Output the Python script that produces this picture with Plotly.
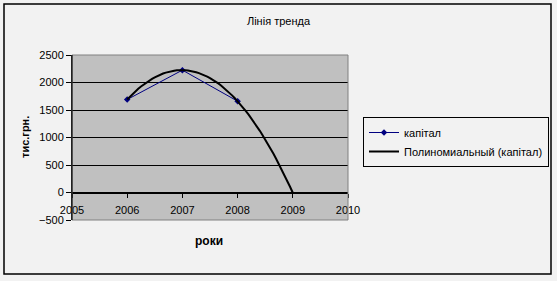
import numpy as np
import plotly.graph_objects as go

years = [2006, 2007, 2008]
capital = [1690, 2225, 1660]
x_ticks = [2005, 2006, 2007, 2008, 2009, 2010]
y_ticks = [-500, 0, 500, 1000, 1500, 2000, 2500]

# polynomial (2nd order) trend, forecast forward 1 period as in the original
coef = np.polyfit(np.array(years) - years[0], capital, 2)
tx = np.linspace(years[0], years[-1] + 1, 61)
ty = np.polyval(coef, tx - years[0])

W, H = 557, 281
L, R, T, B = 72, 209, 55, 61
pw, ph = W - L - R, H - T - B

def px(x):
    return (x - L) / pw

def py(y):
    return (H - B - y) / ph

FONT = "Liberation Sans, Arial, sans-serif"

fig = go.Figure()
fig.add_trace(go.Scatter(
    x=years, y=capital, mode="lines+markers", name="капітал",
    line=dict(color="#000080", width=1),
    marker=dict(symbol="diamond", size=5, color="#000080"),
))
fig.add_trace(go.Scatter(
    x=tx, y=ty, mode="lines", name="Полиномиальный (капітал)",
    line=dict(color="black", width=2),
))

fig.update_layout(
    width=W, height=H,
    margin=dict(l=L, r=R, t=T, b=B, autoexpand=False),
    paper_bgcolor="#F2F2F2",
    plot_bgcolor="#C0C0C0",
    font=dict(family=FONT, size=11, color="black"),
    title=dict(text="Лінія тренда", x=0.5, xref="container", xanchor="center",
               y=1 - 21 / H, yref="container", yanchor="middle",
               font=dict(family=FONT, size=11, color="black")),
    showlegend=True,
    legend=dict(x=363 / W, y=1 - 117 / H, xref="container", yref="container",
                xanchor="left", yanchor="top",
                bgcolor="#F2F2F2", bordercolor="black", borderwidth=1,
                font=dict(family=FONT, size=11, color="black"),
                tracegroupgap=0, itemwidth=30),
    xaxis=dict(range=[2005, 2010], tickvals=x_ticks, ticktext=[str(v) for v in x_ticks],
               showgrid=False, zeroline=False, showline=True, linecolor="black", linewidth=1,
               ticks="outside", ticklen=4, tickcolor="black", ticklabelstandoff=3,
               anchor="free", position=(0 - (-500)) / 3000, fixedrange=True),
    yaxis=dict(range=[-500, 2500], tickvals=y_ticks,
               showgrid=True, gridcolor="black", gridwidth=1, zeroline=False,
               showline=True, linecolor="black", linewidth=1,
               ticks="outside", ticklen=5, tickcolor="black", fixedrange=True),
    shapes=[
        dict(type="rect", xref="paper", yref="paper", x0=0, x1=1, y0=0, y1=1,
             line=dict(color="#808080", width=1), fillcolor="rgba(0,0,0,0)", layer="above"),
        dict(type="line", xref="paper", yref="paper", x0=0, x1=0, y0=0, y1=1,
             line=dict(color="black", width=1), layer="above"),
        dict(type="rect", xref="paper", yref="paper", x0=px(4), x1=px(551), y0=py(274), y1=py(4),
             line=dict(color="black", width=1.5), fillcolor="rgba(0,0,0,0)", layer="above"),
    ],
    annotations=[
        dict(text="<b>тис.грн.</b>", xref="paper", yref="paper", x=px(25), y=py(137),
             textangle=-90, showarrow=False, xanchor="center", yanchor="middle",
             font=dict(family=FONT, size=11, color="black")),
        dict(text="<b>роки</b>", xref="paper", yref="paper", x=px(209), y=py(241),
             showarrow=False, xanchor="center", yanchor="middle",
             font=dict(family=FONT, size=12, color="black")),
    ],
)

fig.write_html("out.html")
